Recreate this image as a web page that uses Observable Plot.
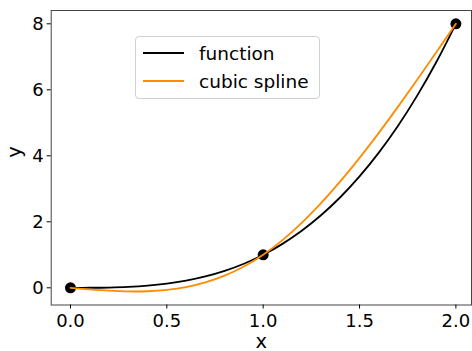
<!DOCTYPE html>
<html>
<head>
<meta charset="utf-8">
<script src="https://cdn.jsdelivr.net/npm/d3@7"></script>
<script src="https://cdn.jsdelivr.net/npm/@observablehq/plot@0.6"></script>
<style>
  html, body { margin: 0; padding: 0; background: #fff; }
  #wrap { position: relative; width: 472px; height: 351px; font-family: "DejaVu Sans", sans-serif; }
  #legend { position: absolute; left: 135px; top: 36px; width: 183px; height: 61px;
    border: 1px solid #d0d0d0; border-radius: 4px; background: rgba(255,255,255,0.8); }
  .item { position: absolute; left: 7px; height: 20px; display: flex; align-items: center; font-size: 18.5px; color: #000; }
  .item span.sw { display: inline-block; width: 41px; height: 0; border-top: 2px solid; margin-right: 15px; }
</style>
</head>
<body>
<div id="wrap"></div>
<script>
// sample positions along x
const xs = [0, 0.1, 0.2, 0.3, 0.4, 0.5, 0.6, 0.7, 0.8, 0.9, 1.0, 1.1, 1.2, 1.3, 1.4, 1.5, 1.6, 1.7, 1.8, 1.9, 2.0];
// "function" curve values
const fnVals = [0, 0.001, 0.008, 0.027, 0.064, 0.125, 0.216, 0.343, 0.512, 0.729, 1.0, 1.331, 1.728, 2.197, 2.744, 3.375, 4.096, 4.913, 5.832, 6.859, 8.0];
// "cubic spline" curve values
const splineVals = [0, -0.049, -0.088, -0.110, -0.104, -0.063, 0.024, 0.165, 0.368, 0.644, 1.0, 1.444, 1.968, 2.565, 3.224, 3.938, 4.696, 5.491, 6.312, 7.152, 8.0];
// knot points
const knotX = [0, 1, 2];
const knotY = [0, 1, 8];
const xTicks = [0, 0.5, 1.0, 1.5, 2.0];
const yTicks = [0, 2, 4, 6, 8];
const seriesNames = ["function", "cubic spline"];
const seriesColors = ["#000000", "#ff8c00"];

const fnData = xs.map((x, i) => ({x, y: fnVals[i]}));
const spData = xs.map((x, i) => ({x, y: splineVals[i]}));
const knots = knotX.map((x, i) => ({x, y: knotY[i]}));

const chart = Plot.plot({
  width: 472,
  height: 351,
  marginLeft: 50.7,
  marginRight: 1,
  marginTop: 10,
  marginBottom: 46.5,
  style: {fontFamily: "DejaVu Sans, sans-serif", fontSize: "18px", background: "#fff", color: "#000"},
  x: {domain: [-0.1, 2.081], ticks: xTicks, tickFormat: d3.format(".1f")},
  y: {domain: [-0.521, 8.403], ticks: yTicks},
  marks: [
    Plot.frame({stroke: "#444", strokeWidth: 1}),
    Plot.axisX({ticks: xTicks, tickFormat: d3.format(".1f"), tickSize: 4, tickPadding: 5, label: null, fontSize: 18}),
    Plot.axisY({ticks: yTicks, tickSize: 4, tickPadding: 3.5, label: null, fontSize: 18}),
    Plot.dot(knots, {x: "x", y: "y", r: 5.5, fill: "#000", stroke: "none"}),
    Plot.line(fnData, {x: "x", y: "y", stroke: seriesColors[0], strokeWidth: 1.8, curve: "catmull-rom"}),
    Plot.line(spData, {x: "x", y: "y", stroke: seriesColors[1], strokeWidth: 1.8, curve: "catmull-rom"}),
    Plot.text(["x"], {frameAnchor: "bottom", dy: 36.5, fontSize: 19.5, text: d => d, lineAnchor: "middle"}),
    Plot.text(["y"], {frameAnchor: "left", dx: -36, rotate: -90, fontSize: 19.5, text: d => d, lineAnchor: "middle"})
  ]
});

const wrap = document.getElementById("wrap");
wrap.appendChild(chart);
const legend = document.createElement("div");
legend.id = "legend";
seriesNames.forEach((name, i) => {
  const it = document.createElement("div");
  it.className = "item";
  it.style.top = (i === 0 ? 6 : 34) + "px";
  const sw = document.createElement("span");
  sw.className = "sw";
  sw.style.borderColor = seriesColors[i];
  it.appendChild(sw);
  it.appendChild(document.createTextNode(name));
  legend.appendChild(it);
});
wrap.appendChild(legend);
</script>
</body>
</html>
